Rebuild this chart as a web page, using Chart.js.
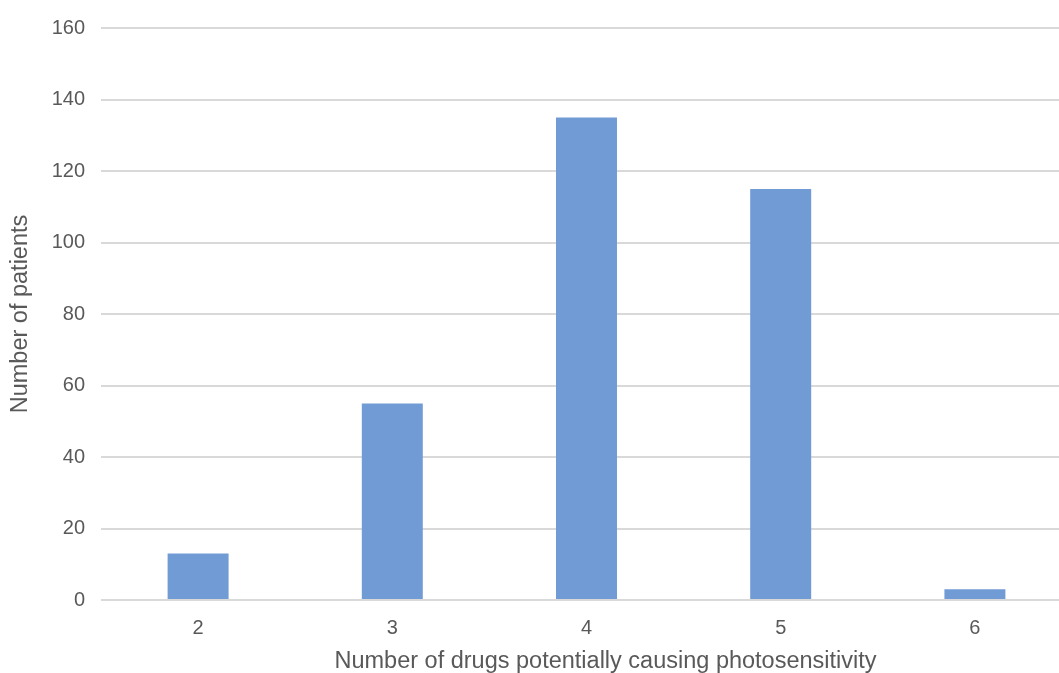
<!DOCTYPE html>
<html>
<head>
<meta charset="utf-8">
<script src="https://cdn.jsdelivr.net/npm/chart.js@4.4.1/dist/chart.umd.min.js"></script>
<style>
  html, body { margin: 0; padding: 0; background: #fff; }
  #clip { width: 1059px; height: 673px; overflow: hidden; }
  #wrap { width: 1072px; height: 673px; }
</style>
</head>
<body>
<div id="clip"><div id="wrap"><canvas id="chart"></canvas></div></div>
<script>
// drugs per patient vs patient count
const drugCounts = ['2', '3', '4', '5', '6'];
const patientCounts = [13, 55, 135, 115, 3];
const yTicks = [0, 20, 40, 60, 80, 100, 120, 140, 160];
const xTitle = 'Number of drugs potentially causing photosensitivity';

const textColor = '#595959';
const gridColor = '#d9d9d9';

// x axis title drawn by hand so it can sit a bit right of the plot centre, like the original
const xTitlePlugin = {
    id: 'xTitle',
    afterDraw(chart) {
        const { ctx, chartArea } = chart;
        ctx.save();
        ctx.fillStyle = textColor;
        ctx.font = '23.5px "Liberation Sans"';
        ctx.textAlign = 'center';
        ctx.textBaseline = 'middle';
        ctx.fillText(xTitle, (chartArea.left + chartArea.right) / 2 + 19, chartArea.bottom + 62);
        ctx.restore();
    }
};

new Chart(document.getElementById('chart'), {
    type: 'bar',
    data: {
        labels: drugCounts,
        datasets: [{
            data: patientCounts,
            backgroundColor: '#709bd4',
            borderWidth: 0,
            categoryPercentage: 1,
            barPercentage: 0.314
        }]
    },
    options: {
        responsive: true,
        maintainAspectRatio: false,
        animation: false,
        layout: { padding: { top: 17, right: 0, left: 0, bottom: 0 } },
        plugins: {
            legend: { display: false },
            tooltip: { enabled: false }
        },
        scales: {
            x: {
                grid: { display: false },
                border: { display: false },
                ticks: { color: textColor, font: { family: 'Liberation Sans', size: 20 }, padding: 8 },
                afterFit: (axis) => { axis.height = 73; }
            },
            y: {
                min: 0,
                max: 160,
                afterBuildTicks: (axis) => { axis.ticks = yTicks.map(v => ({ value: v })); },
                grid: { color: gridColor, lineWidth: 2, drawTicks: false },
                border: { display: false },
                ticks: { color: textColor, font: { family: 'Liberation Sans', size: 20 }, padding: 16 },
                title: {
                    display: true,
                    text: 'Number of patients',
                    color: textColor,
                    font: { family: 'Liberation Sans', size: 23.5 },
                    padding: { top: 6, bottom: 4 }
                },
                afterFit: (axis) => { axis.width = 101; }
            }
        }
    },
    plugins: [xTitlePlugin]
});
</script>
</body>
</html>
